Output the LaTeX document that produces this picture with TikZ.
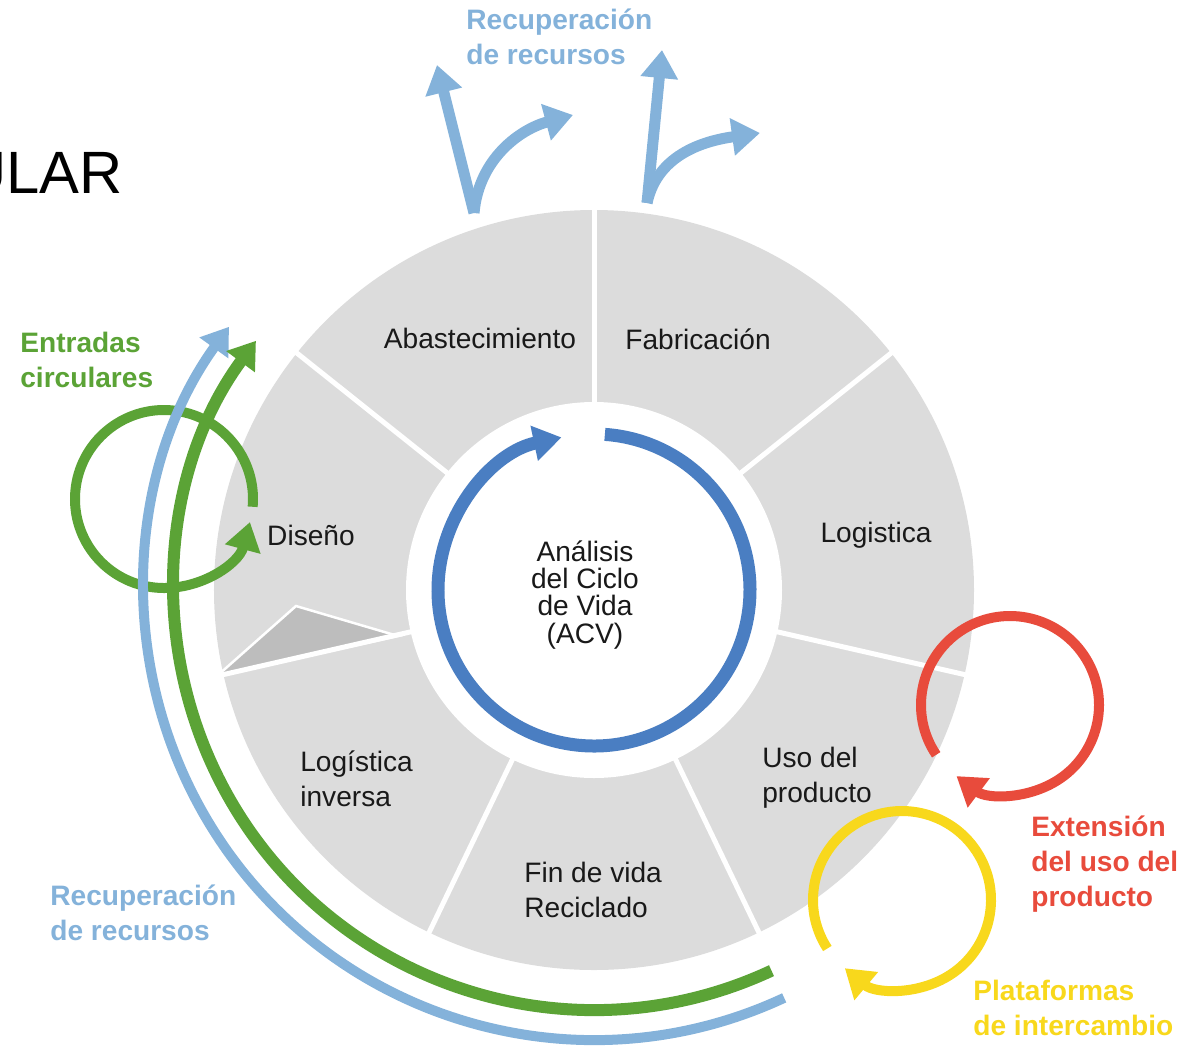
\documentclass[tikz,border=0pt]{standalone}
\usepackage{fontspec}
\setmainfont{Liberation Sans}
\usepackage{xcolor}
\usepackage{tikz}
\usetikzlibrary{
    arrows.meta,
    positioning
}
\definecolor{sectorgray}{HTML}{DCDCDC}
\definecolor{wedgegray}{HTML}{BDBDBD}
\definecolor{acvblue}{HTML}{4A7EC2}
\definecolor{lightblue}{HTML}{84B2DA}
\definecolor{leafgreen}{HTML}{5BA336}
\definecolor{loopred}{HTML}{E84B3C}
\definecolor{loopyellow}{HTML}{F8D81C}
\tikzset{
  stage/.style = {
      font=\fontsize{16}{19.9}\selectfont,
      text=black!90,
      align=left,
      inner sep=0pt
  },
  tag/.style = {
      font=\fontsize{16}{19.9}\selectfont\bfseries,
      align=left,
      anchor=west,
      inner sep=0pt
  },
  separator/.style = {
      white,
      line width=0.1cm
  },
  ring/.style = {
      acvblue,
      line width=0.26cm,
      -{Triangle[length=0.56cm,width=0.68cm]}
  },
  cycle/.style = {
      line width=0.2cm,
      -{Triangle[length=0.56cm,width=0.7cm]}
  },
  flow/.style = {
      -{Triangle[length=0.52cm,width=0.68cm]}
  },
  recover/.style = {
      lightblue,
      line width=0.22cm,
      -{Triangle[length=0.56cm,width=0.72cm]}
  }
}
\begin{document}
\begin{tikzpicture}[x=0.02cm,y=0.02cm]
    \useasboundingbox (-594,-456) rectangle (608,590);
    % Disk
    \fill[sectorgray] (0,0) circle (380);
    \fill[wedgegray, draw=white, line width=0.05cm]
      (-377,-86) -- (-298,-16) -- (-196,-46) -- cycle;
    \fill[white] (0,0) circle (188);
    \foreach \a in {0,...,6}
      \draw[separator] ({90-\a*360/7}:186) -- ({90-\a*360/7}:384);
    % Stages
    \node[stage] (abast) at (-114,252) {Abastecimiento};
    \node[stage] (fabric) at (104,251) {Fabricación};
    \node[stage] (logist) at (282,55) {Logistica};
    \node[stage, anchor=west] (uso) at (168,-188) {Uso del\\producto};
    \node[stage, anchor=west] (fin) at (-70,-300) {Fin de vida\\Reciclado};
    \node[stage, anchor=west] (inversa) at (-294,-189) {Logística\\inversa};
    \node[stage] (diseno) at (-283,55) {Diseño};
    \node[stage, align=center, font=\fontsize{16}{15.4}\selectfont]
      (acv) at (-9,-5) {Análisis\\del Ciclo\\de Vida\\(ACV)};
    % Centre ring
    \draw[ring] (86:156) arc[start angle=86, end angle=-258, radius=156];
    % Loops
    \coordinate (greenc) at (-430,91);
    \coordinate (redc) at (416,-115);
    \coordinate (yellowc) at (308,-310);
    \draw[cycle, leafgreen] (greenc) ++(-5:89)
      arc[start angle=-5, end angle=345, radius=89];
    \draw[cycle, loopred] (redc) ++(214:89)
      arc[start angle=214, end angle=-127, radius=89];
    \draw[cycle, loopyellow] (yellowc) ++(213:89)
      arc[start angle=213, end angle=-130, radius=89];
    % Outer flows
    \draw[flow, lightblue, line width=0.2cm] (-65:450)
      arc[start angle=-65, end angle=-215.8, radius=450];
    \draw[flow, leafgreen, line width=0.24cm] (-65:420)
      arc[start angle=-65, end angle=-216.4, radius=420];
    % Top arrows
    \coordinate (stemL) at (-120,377);
    \coordinate (tipL) at (-157,525);
    \coordinate (turnL) at (-21,475);
    \coordinate (stemR) at (53,387);
    \coordinate (tipR) at (68,540);
    \coordinate (turnR) at (166,457);
    \draw[recover] (stemL) -- (tipL);
    \draw[recover] (stemL) to[out=85,in=195] (turnL);
    \draw[recover] (stemR) -- (tipR);
    \draw[recover] (stemR) to[out=78,in=188] (turnR);
    % Tags
    \node[tag, text=lightblue] (rectop) at (-128,553) {Recuperación\\de recursos};
    \node[tag, text=leafgreen] (entradas) at (-574,230) {Entradas\\circulares};
    \node[tag, text=lightblue] (recbottom) at (-544,-323) {Recuperación\\de recursos};
    \node[tag, text=loopred] (extension) at (437,-274) {Extensión\\del uso del\\producto};
    \node[tag, text=loopyellow] (plataformas) at (379,-418) {Plataformas\\de intercambio};
    \node[anchor=base west, inner sep=0pt, font=\fontsize{34}{40}\selectfont]
      (titulo) at (-631,397) {ULAR};
\end{tikzpicture}
\end{document}
